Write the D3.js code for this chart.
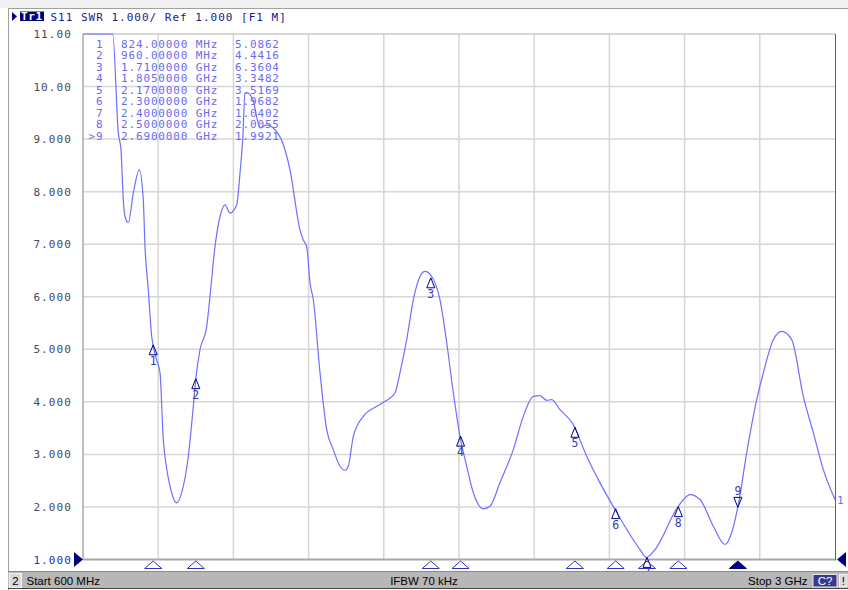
<!DOCTYPE html>
<html>
<head>
<meta charset="utf-8">
<script src="https://cdn.jsdelivr.net/npm/d3@7/dist/d3.min.js"></script>
<style>
  html, body { margin: 0; padding: 0; background: #ffffff; }
  svg { display: block; }
</style>
</head>
<body>
<svg id="chart" width="848" height="590"></svg>
<script>
// ---------- data ----------
const xTicks = [600, 840, 1080, 1320, 1560, 1800, 2040, 2280, 2520, 2760, 3000];
const yTicks = [11, 10, 9, 8, 7, 6, 5, 4, 3, 2, 1];
const yTickLabels = ["11.00", "10.00", "9.000", "8.000", "7.000", "6.000", "5.000", "4.000", "3.000", "2.000", "1.000"];

const traceFreq = [600, 650, 694.8, 712.7, 721.3, 728.6, 734.0, 744.6, 760.5, 779.7, 792.4, 797.9, 808.4, 819.3, 824.4,
  835.0, 845.7, 856.3, 866.5, 877.7, 899.0, 915.0, 936.1, 952.0, 959.7, 973.4, 994.8, 1005.3, 1021.3, 1037.2, 1053.2, 1069.2,
  1090.5, 1101.1, 1109.7, 1117.0, 1122.5, 1142.6, 1164.9, 1186.3, 1228.7, 1260.6, 1292.5, 1303.0, 1313.9, 1324.5, 1335.0,
  1356.4, 1377.8, 1398.8, 1420.2, 1436.2, 1446.7, 1462.7, 1494.6, 1537.3, 1563.8, 1595.7, 1611.7, 1633.1, 1654.2,
  1675.5, 1691.5, 1712.9, 1739.2, 1760.8, 1781.8, 1803.2, 1824.6, 1845.6, 1877.6, 1898.9, 1930.8, 1973.3, 2005.2,
  2037.1, 2058.5, 2079.9, 2095.8, 2122.3, 2164.8, 2207.6, 2250.0, 2297.9, 2377.7, 2397.8, 2425.6, 2499.9, 2537.4,
  2569.3, 2611.6, 2648.9, 2670.3, 2691.4, 2718.2, 2750.1, 2771.2, 2803.1, 2829.9, 2861.8, 2898.8, 2930.8, 2962.7, 3000];
const traceSWR = [14, 13, 11.0, 9.118, 8.795, 7.844, 7.527, 7.413, 7.971, 8.414, 7.844, 6.956, 6.133, 5.245, 5.055,
  4.80, 4.555, 3.281, 2.75, 2.394, 2.078, 2.274, 2.964, 3.914, 4.42, 4.992, 5.435, 6.006, 6.956, 7.527, 7.749, 7.591,
  7.749, 8.357, 8.985, 9.873, 9.884, 9.745, 9.213, 9.270, 9.042, 8.414, 7.274, 7.08, 6.956, 6.266, 5.943,
  4.555, 3.471, 3.091, 2.774, 2.698, 2.774, 3.344, 3.724, 3.914, 4.010, 4.169, 4.555, 5.183, 5.943,
  6.386, 6.481, 6.386, 5.943, 5.125, 4.175, 3.344, 2.774, 2.274, 1.964, 2.013, 2.464, 3.091, 3.724,
  4.105, 4.118, 4.029, 4.042, 3.852, 3.567, 2.964, 2.458, 1.951, 1.190, 1.04, 1.190, 2.013, 2.236,
  2.141, 1.633, 1.285, 1.513, 2.046, 3.029, 4.042, 4.549, 5.183, 5.340, 5.183, 4.105, 3.414, 2.711, 2.141];

const markerNums = ["1", "2", "3", "4", "5", "6", "7", "8", "9"];
const markerFreqs = [824, 960, 1710, 1805, 2170, 2300, 2400, 2500, 2690];
const markerFreqLabels = ["824.00000 MHz", "960.00000 MHz", "1.7100000 GHz", "1.8050000 GHz", "2.1700000 GHz",
  "2.3000000 GHz", "2.4000000 GHz", "2.5000000 GHz", "2.6900000 GHz"];
const markerValues = [5.0862, 4.4416, 6.3604, 3.3482, 3.5169, 1.9682, 1.0402, 2.0055, 1.9921];
const activeMarker = 8; // index of marker 9

const headerText = "S11 SWR 1.000/ Ref 1.000 [F1 M]";
const statusStart = "Start 600 MHz";
const statusIfbw = "IFBW 70 kHz";
const statusStop = "Stop 3 GHz";

// ---------- layout ----------
const L = 83, R = 835, T = 34, B = 559.5;
const mono = "'DejaVu Sans Mono', 'Liberation Mono', monospace";
const sans = "'Liberation Sans', Arial, sans-serif";
const traceColor = "#6f6fff";
const navy = "#00007f";

const svg = d3.select("#chart");
const x = d3.scaleLinear().domain([600, 3000]).range([L, R]);
const y = d3.scaleLinear().domain([1, 11]).range([B, T]).clamp(true);

// window frame
svg.append("rect").attr("x", 0).attr("y", 0).attr("width", 848).attr("height", 8).attr("fill", "#f0f0f0");
svg.append("line").attr("x1", 8).attr("x2", 848).attr("y1", 8.5).attr("y2", 8.5).attr("stroke", "#a0a0a0");
svg.append("line").attr("x1", 8.5).attr("x2", 8.5).attr("y1", 8).attr("y2", 590).attr("stroke", "#a0a0a0");

// header
svg.append("path").attr("d", "M12,12 L17,16.5 L12,21 Z").attr("fill", navy);
svg.append("rect").attr("x", 20).attr("y", 11.5).attr("width", 24).attr("height", 9.5).attr("fill", navy);
svg.append("text").attr("x", 21).attr("y", 20).attr("fill", "#ffffff")
  .style("font-family", mono).style("font-size", "11px").style("font-weight", "bold").style("letter-spacing", "0.6px")
  .text("Tr1");
svg.append("text").attr("x", 50.5).attr("y", 20.5).attr("fill", "#1a1a80")
  .style("font-family", mono).style("font-size", "11px").style("letter-spacing", "1px")
  .text(headerText);

// grid
const grid = svg.append("g");
grid.selectAll("line.v").data(xTicks.slice(1, -1)).join("line")
  .attr("x1", d => x(d)).attr("x2", d => x(d)).attr("y1", T).attr("y2", B)
  .attr("stroke", "#d6d6d6").attr("stroke-width", 1.5);
grid.selectAll("line.h").data(yTicks.slice(1, -1)).join("line")
  .attr("x1", L).attr("x2", R).attr("y1", d => y(d)).attr("y2", d => y(d))
  .attr("stroke", "#d6d6d6").attr("stroke-width", 1.5);

// border
svg.append("line").attr("x1", L).attr("x2", R).attr("y1", T).attr("y2", T).attr("stroke", "#b0b0b0").attr("stroke-width", 1.2);
svg.append("line").attr("x1", L).attr("x2", L).attr("y1", T).attr("y2", B).attr("stroke", "#a8a8a8").attr("stroke-width", 1.5);
svg.append("line").attr("x1", L).attr("x2", R).attr("y1", B).attr("y2", B).attr("stroke", "#a8a8a8").attr("stroke-width", 1.8);
svg.append("line").attr("x1", R + 0.5).attr("x2", R + 0.5).attr("y1", T).attr("y2", B + 1).attr("stroke", "#606060").attr("stroke-width", 1);

// y labels
svg.append("g").selectAll("text").data(yTicks).join("text")
  .attr("x", 72).attr("y", d => y(d) + 4)
  .attr("text-anchor", "end")
  .attr("fill", d => d === 1 ? "#2e2eb0" : "#474760")
  .style("font-family", mono).style("font-size", "11px").style("letter-spacing", "1.1px")
  .text((d, i) => yTickLabels[i]);

// ref level arrows
svg.append("path").attr("d", `M74,552 L${L},${B} L74,567 Z`).attr("fill", navy);
svg.append("path").attr("d", `M846,552 L837,${B} L846,567 Z`).attr("fill", navy);

// marker table
const table = svg.append("g").style("font-family", mono).style("font-size", "11px").attr("fill", "#6b6bf0");
markerNums.forEach((n, i) => {
  const by = 47.5 + i * 11.5;
  table.append("text").attr("x", 103.5).attr("y", by).attr("text-anchor", "end").style("letter-spacing", "0.9px")
    .text((i === activeMarker ? ">" : "") + n);
  table.append("text").attr("x", 121).attr("y", by).style("letter-spacing", "0.85px").text(markerFreqLabels[i]);
  table.append("text").attr("x", 235).attr("y", by).style("letter-spacing", "0.85px").text(markerValues[i].toFixed(4));
});

// trace
const pts = traceFreq.map((f, i) => [f, traceSWR[i]]);
const line = d3.line().x(d => x(d[0])).y(d => y(d[1])).curve(d3.curveMonotoneX);
svg.append("path").attr("d", line(pts)).attr("fill", "none")
  .attr("stroke", traceColor).attr("stroke-width", 1.2).attr("stroke-linejoin", "round");
svg.append("text").attr("x", 837).attr("y", y(traceSWR[traceSWR.length - 1]) + 4)
  .attr("fill", traceColor).style("font-family", mono).style("font-size", "11px").text("1");

// markers on trace
const mk = svg.append("g");
markerFreqs.forEach((f, i) => {
  const mx = x(f), my = y(markerValues[i]);
  if (i === activeMarker) {
    mk.append("path").attr("d", `M${mx},${my} L${mx - 4},${my - 10} L${mx + 4},${my - 10} Z`)
      .attr("fill", "none").attr("stroke", navy).attr("stroke-width", 1);
    mk.append("text").attr("x", mx).attr("y", my - 12).attr("text-anchor", "middle")
      .attr("fill", "#3838b0").style("font-family", mono).style("font-size", "11.5px").text(markerNums[i]);
  } else {
    mk.append("path").attr("d", `M${mx},${my} L${mx - 4},${my + 10} L${mx + 4},${my + 10} Z`)
      .attr("fill", "none").attr("stroke", navy).attr("stroke-width", 1);
    mk.append("text").attr("x", mx).attr("y", my + 20).attr("text-anchor", "middle")
      .attr("fill", "#3838b0").style("font-family", mono).style("font-size", "11.5px").text(markerNums[i]);
  }
});

// marker indicators below axis
const ind = svg.append("g");
markerFreqs.forEach((f, i) => {
  const mx = x(f);
  ind.append("path").attr("d", `M${mx},561 L${mx - 8.5},568.5 L${mx + 8.5},568.5 Z`)
    .attr("fill", i === activeMarker ? navy : "none")
    .attr("stroke", i === activeMarker ? navy : "#3030c0").attr("stroke-width", 1);
});

// status bar
svg.append("rect").attr("x", 8).attr("y", 571.5).attr("width", 840).attr("height", 17).attr("fill", "#b7b7b7");
svg.append("line").attr("x1", 8).attr("x2", 848).attr("y1", 571.5).attr("y2", 571.5).attr("stroke", "#8a8a8a");
svg.append("line").attr("x1", 8).attr("x2", 848).attr("y1", 588.5).attr("y2", 588.5).attr("stroke", "#404040");
svg.append("rect").attr("x", 9.5).attr("y", 573.5).attr("width", 12).attr("height", 14).attr("fill", "#d9d9d9").attr("stroke", "#f4f4f4");
svg.append("text").attr("x", 15.5).attr("y", 585).attr("text-anchor", "middle").attr("fill", "#000")
  .style("font-family", sans).style("font-size", "11.5px").text("2");
svg.append("text").attr("x", 26.5).attr("y", 585).attr("fill", "#000")
  .style("font-family", sans).style("font-size", "11.5px").text(statusStart);
svg.append("text").attr("x", 424).attr("y", 585).attr("text-anchor", "middle").attr("fill", "#000")
  .style("font-family", sans).style("font-size", "11.5px").text(statusIfbw);
svg.append("text").attr("x", 807.5).attr("y", 585).attr("text-anchor", "end").attr("fill", "#000")
  .style("font-family", sans).style("font-size", "11.5px").text(statusStop);
svg.append("rect").attr("x", 813).attr("y", 574.5).attr("width", 24).attr("height", 12.5).attr("fill", "#3a3a8c").attr("stroke", "#e8e8e8");
svg.append("text").attr("x", 825).attr("y", 585).attr("text-anchor", "middle").attr("fill", "#fff")
  .style("font-family", sans).style("font-size", "11.5px").text("C?");
svg.append("rect").attr("x", 839.5).attr("y", 574.5).attr("width", 7.5).attr("height", 12.5).attr("fill", "#dcdcdc").attr("stroke", "#f4f4f4");
svg.append("text").attr("x", 843.3).attr("y", 585).attr("text-anchor", "middle").attr("fill", "#000")
  .style("font-family", sans).style("font-size", "11.5px").text("!");
</script>
</body>
</html>
